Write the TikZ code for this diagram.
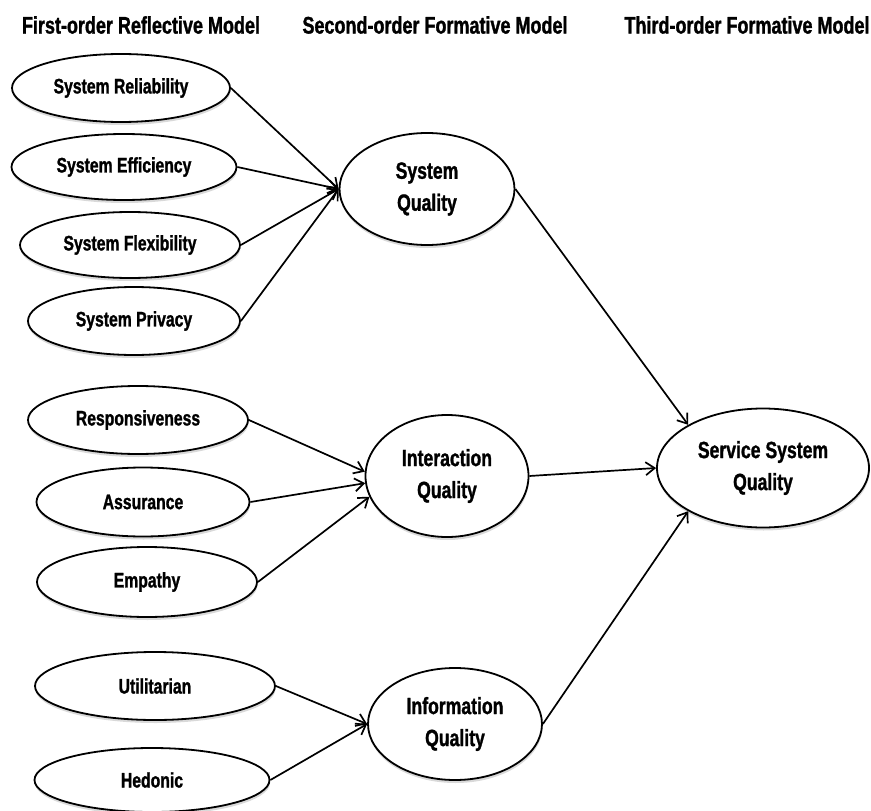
\documentclass[tikz,border=0pt]{standalone}
\usepackage{fontspec}
\setmainfont{Liberation Sans}[FakeStretch=0.75, BoldFeatures={FakeBold=1.2}]
\usetikzlibrary{shapes.geometric,shadows,arrows.meta}

\tikzset{
  construct/.style={ellipse, draw, line width=1.8pt, fill=white, inner sep=0pt, align=center,
    drop shadow={shadow xshift=0.5pt, shadow yshift=-3pt, opacity=0.3}},
  firstord/.style={construct, font=\bfseries\fontsize{21}{25}\selectfont},
  secondord/.style={construct, font=\bfseries\fontsize{23.5}{32}\selectfont},
  heading/.style={font=\bfseries\fontsize{24}{28}\selectfont},
  link/.style={line width=1.7pt, -{Straight Barb[length=9pt,width=13pt]}}
}

\begin{document}
\begin{tikzpicture}[x=1pt,y=-1pt]
\useasboundingbox (0,0) rectangle (871,811);
% column titles
\node[heading] (h1) at (141,25) {First-order Reflective Model};
\node[heading] (h2) at (435,25) {Second-order Formative Model};
\node[heading] (h3) at (747,25) {Third-order Formative Model};
% first-order constructs
\foreach \n/\x/\y/\w/\h/\t in {rel/121/88/218/68/System Reliability,
    eff/124/167/225/66/System Efficiency, flex/130/245/220/66/System Flexibility,
    priv/134/321/212/68/System Privacy, resp/138/420/220/68/Responsiveness,
    assur/143/502/213/69/Assurance, emp/147/582/220/70/Empathy,
    util/155/686/240/68/Utilitarian, hed/152/780/235/64/Hedonic}
    \node[firstord, minimum width=\w pt, minimum height=\h pt] (\n) at (\x,\y) {\t};
% second- and third-order constructs
\node[secondord, minimum width=175pt, minimum height=112pt] (sq) at (427,189) {System\\Quality};
\node[secondord, minimum width=163pt, minimum height=122pt] (iq) at (447,476) {Interaction\\Quality};
\node[secondord, minimum width=174pt, minimum height=112pt] (infq) at (455,724) {Information\\Quality};
\node[secondord, minimum width=212pt, minimum height=119pt] (ssq) at (763,468) {Service System\\Quality};
% paths
\foreach \s in {rel,eff,flex,priv}
    \draw[link] (\s.east) -- (sq.west);
\foreach \s/\a in {resp/177, assur/185, emp/195}
    \draw[link] (\s.east) -- (iq.\a);
\foreach \s in {util,hed}
    \draw[link] (\s.east) -- (infq.west);
\draw[link] (sq.east) -- (ssq.150);
\draw[link] (iq.east) -- (ssq.west);
\draw[link] (infq.east) -- (ssq.210);
\end{tikzpicture}
\end{document}
